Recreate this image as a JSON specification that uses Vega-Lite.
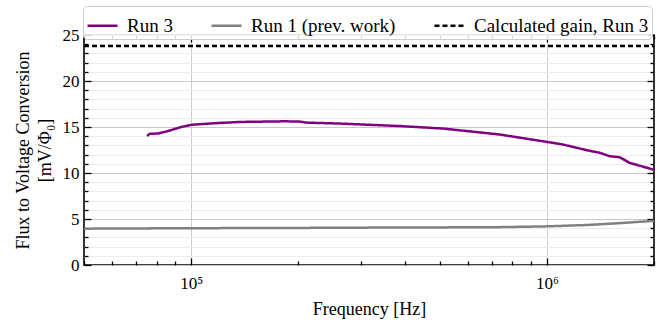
{
  "$schema": "https://vega.github.io/schema/vega-lite/v6.json",
  "width": 570,
  "height": 230,
  "autosize": "none",
  "padding": {"left": 84, "top": 35, "right": 12, "bottom": 58},
  "background": "white",
  "config": {
    "font": "Liberation Serif",
    "view": {"stroke": "#000", "strokeWidth": 1.6},
    "axis": {"domain": false, "labelFont": "Liberation Serif", "titleFont": "Liberation Serif", "labelColor": "#000", "titleColor": "#000", "titleFontWeight": "normal", "tickColor": "#000", "tickWidth": 1.3},
    "legend": {"labelFont": "Liberation Serif", "titleFont": "Liberation Serif"},
    "text": {"font": "Liberation Serif"}
  },
  "data": {"values": [
    {"series": "Run 3", "freq": 75300, "gain": 14.0},
    {"series": "Run 3", "freq": 76300, "gain": 14.25},
    {"series": "Run 3", "freq": 80800, "gain": 14.3},
    {"series": "Run 3", "freq": 85100, "gain": 14.5},
    {"series": "Run 3", "freq": 93800, "gain": 15.0},
    {"series": "Run 3", "freq": 100600, "gain": 15.25},
    {"series": "Run 3", "freq": 121400, "gain": 15.45},
    {"series": "Run 3", "freq": 138000, "gain": 15.55},
    {"series": "Run 3", "freq": 184600, "gain": 15.62},
    {"series": "Run 3", "freq": 203200, "gain": 15.58},
    {"series": "Run 3", "freq": 210000, "gain": 15.48},
    {"series": "Run 3", "freq": 263000, "gain": 15.37},
    {"series": "Run 3", "freq": 387000, "gain": 15.1},
    {"series": "Run 3", "freq": 511000, "gain": 14.83},
    {"series": "Run 3", "freq": 738000, "gain": 14.18},
    {"series": "Run 3", "freq": 1000000, "gain": 13.38},
    {"series": "Run 3", "freq": 1109000, "gain": 13.1},
    {"series": "Run 3", "freq": 1294000, "gain": 12.48},
    {"series": "Run 3", "freq": 1407000, "gain": 12.2},
    {"series": "Run 3", "freq": 1500000, "gain": 11.83},
    {"series": "Run 3", "freq": 1600000, "gain": 11.72},
    {"series": "Run 3", "freq": 1708000, "gain": 11.1},
    {"series": "Run 3", "freq": 1980000, "gain": 10.4},
    {"series": "Run 3", "freq": 2000000, "gain": 10.3},
    {"series": "Run 1 (prev. work)", "freq": 50000, "gain": 3.95},
    {"series": "Run 1 (prev. work)", "freq": 100000, "gain": 4.0},
    {"series": "Run 1 (prev. work)", "freq": 200000, "gain": 4.03},
    {"series": "Run 1 (prev. work)", "freq": 400000, "gain": 4.08},
    {"series": "Run 1 (prev. work)", "freq": 700000, "gain": 4.1},
    {"series": "Run 1 (prev. work)", "freq": 1000000, "gain": 4.2},
    {"series": "Run 1 (prev. work)", "freq": 1300000, "gain": 4.35},
    {"series": "Run 1 (prev. work)", "freq": 1600000, "gain": 4.55},
    {"series": "Run 1 (prev. work)", "freq": 2000000, "gain": 4.8},
    {"series": "Calculated gain, Run 3", "freq": 50000, "gain": 23.8},
    {"series": "Calculated gain, Run 3", "freq": 2000000, "gain": 23.8}
  ]},
  "layer": [
    {
      "mark": {"type": "line", "strokeWidth": 2.5, "clip": true},
      "encoding": {
        "x": {"field": "freq", "type": "quantitative",
          "scale": {"type": "log", "domain": [50000, 2000000], "nice": false},
          "title": "Frequency [Hz]",
          "axis": {
            "values": [50000, 60000, 70000, 80000, 90000, 100000, 200000, 300000, 400000, 500000, 600000, 700000, 800000, 900000, 1000000, 2000000],
            "labelExpr": "datum.value == 100000 ? '10⁵' : (datum.value == 1000000 ? '10⁶' : '')",
            "tickSize": {"condition": {"test": "datum.value == 100000 || datum.value == 1000000", "value": -7}, "value": -4},
            "gridOpacity": {"condition": {"test": "datum.value == 100000 || datum.value == 1000000", "value": 1}, "value": 0},
            "gridColor": "#cccccc",
            "labelFont": "Liberation Serif", "titleFont": "Liberation Serif",
            "labelFontSize": 17, "titleFontSize": 18, "labelPadding": 17, "titlePadding": 6,
            "labelFlush": false, "labelOverlap": false
          }
        },
        "y": {"field": "gain", "type": "quantitative",
          "scale": {"domain": [0, 25], "nice": false},
          "title": ["Flux to Voltage Conversion", "[mV/Φ₀]"],
          "axis": {
            "values": [0,1,2,3,4,5,6,7,8,9,10,11,12,13,14,15,16,17,18,19,20,21,22,23,24,25],
            "labelExpr": "datum.value % 5 == 0 ? datum.label : ''",
            "tickSize": {"condition": {"test": "datum.value % 5 == 0", "value": -7}, "value": -4},
            "gridColor": {"condition": {"test": "datum.value % 5 == 0", "value": "#c8c8c8"}, "value": "#ececec"},
            "labelFont": "Liberation Serif", "titleFont": "Liberation Serif",
            "labelFontSize": 17, "titleFontSize": 18, "labelPadding": 12, "titlePadding": 8, "titleLineHeight": 22,
            "labelFlush": false, "labelOverlap": false
          }
        },
        "color": {"field": "series", "type": "nominal",
          "scale": {"domain": ["Run 3", "Run 1 (prev. work)", "Calculated gain, Run 3"], "range": ["#800080", "#808080", "#000000"]},
          "legend": {"title": null, "orient": "none", "legendX": -1, "legendY": -29, "direction": "horizontal",
            "columns": 3, "columnPadding": 33, "labelFontSize": 19, "labelFont": "Liberation Serif", "labelColor": "#000", "labelLimit": 400,
            "symbolType": "stroke", "symbolSize": 900, "symbolStrokeWidth": 2.5, "labelOffset": 8,
            "strokeColor": "#cccccc", "cornerRadius": 4, "padding": 3, "fillColor": "rgba(255,255,255,0.85)"}
        },
        "strokeDash": {"field": "series", "type": "nominal",
          "scale": {"domain": ["Run 3", "Run 1 (prev. work)", "Calculated gain, Run 3"], "range": [[1, 0], [1, 0], [5, 3]]},
          "legend": {"title": null, "orient": "none", "legendX": -1, "legendY": -29, "direction": "horizontal",
            "columns": 3, "columnPadding": 33, "labelFontSize": 19, "labelFont": "Liberation Serif", "labelColor": "#000", "labelLimit": 400,
            "symbolType": "stroke", "symbolSize": 900, "symbolStrokeWidth": 2.5, "labelOffset": 8,
            "strokeColor": "#cccccc", "cornerRadius": 4, "padding": 3, "fillColor": "rgba(255,255,255,0.85)"}
        }
      }
    },
    {
      "mark": {"type": "line", "opacity": 0},
      "encoding": {
        "x": {"field": "freq", "type": "quantitative",
          "axis": {"orient": "top", "title": null, "labels": false, "grid": false,
            "values": [50000, 60000, 70000, 80000, 90000, 100000, 200000, 300000, 400000, 500000, 600000, 700000, 800000, 900000, 1000000, 2000000],
            "tickSize": {"condition": {"test": "datum.value == 100000 || datum.value == 1000000", "value": -7}, "value": -4}}
        },
        "y": {"field": "gain", "type": "quantitative",
          "axis": {"orient": "right", "title": null, "labels": false, "grid": false,
            "values": [0,1,2,3,4,5,6,7,8,9,10,11,12,13,14,15,16,17,18,19,20,21,22,23,24,25],
            "tickSize": {"condition": {"test": "datum.value % 5 == 0", "value": -7}, "value": -4}}
        },
        "detail": {"field": "series"}
      }
    }
  ],
  "resolve": {"axis": {"x": "independent", "y": "independent"}}
}
